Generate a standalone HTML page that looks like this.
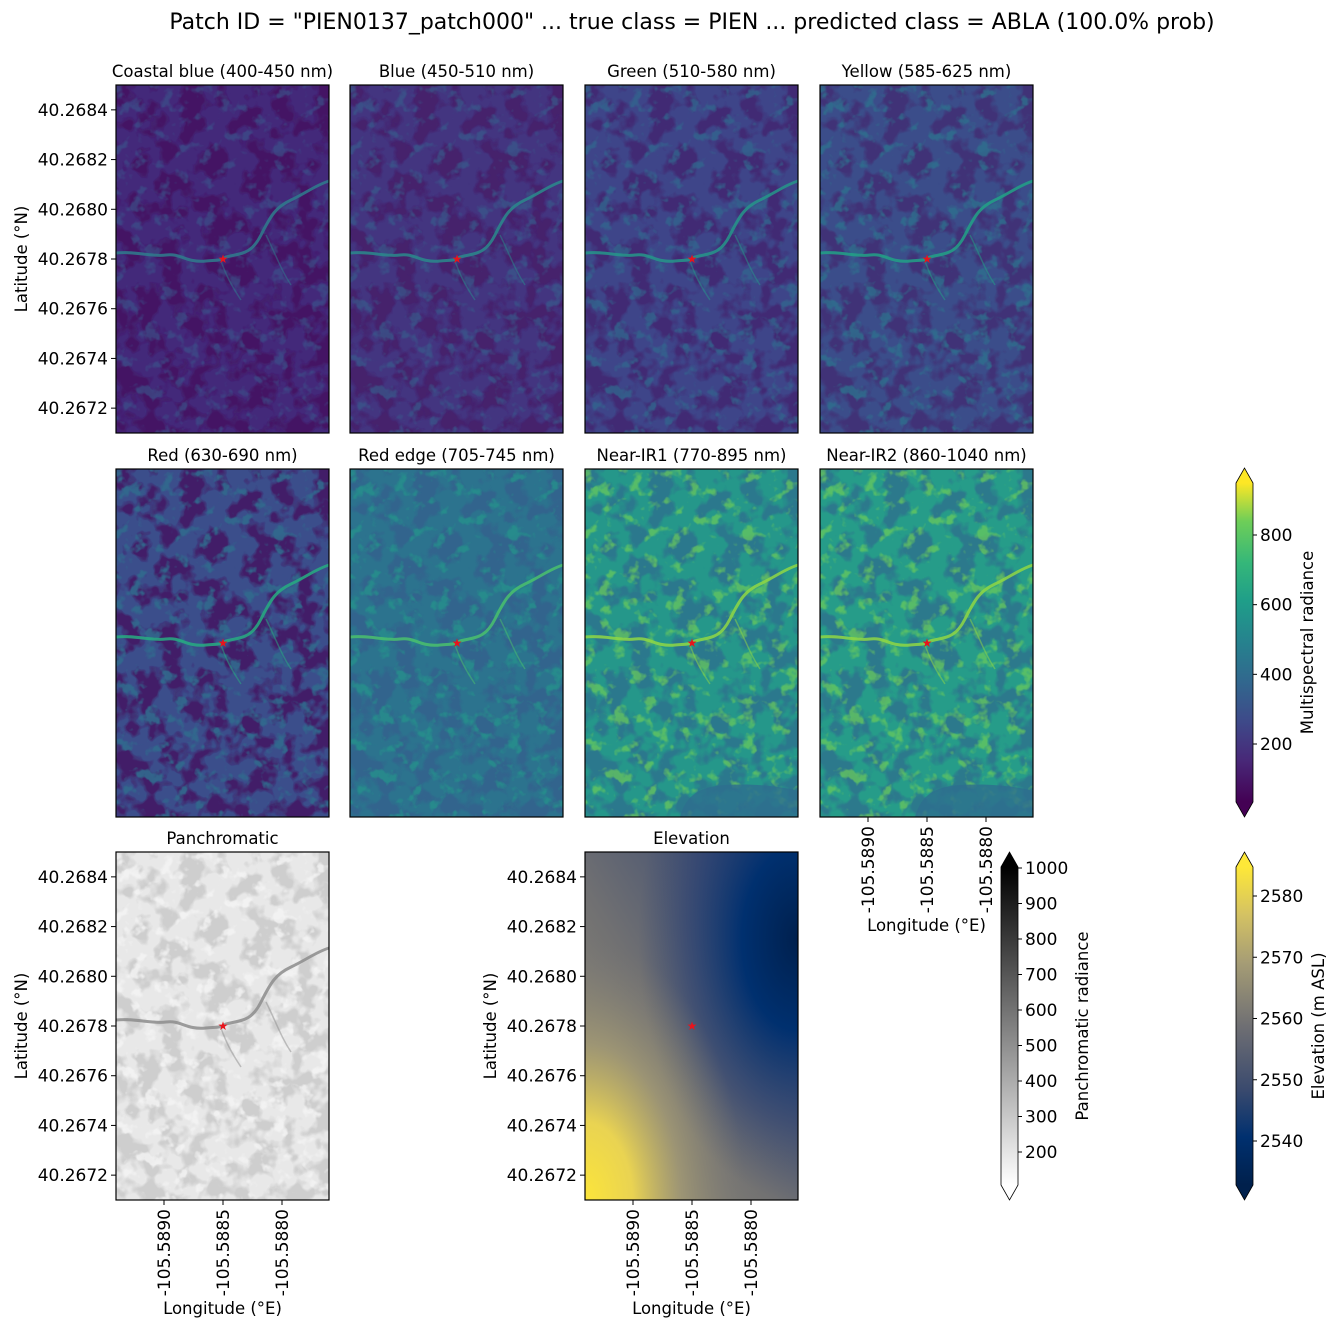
<!DOCTYPE html>
<html><head><meta charset="utf-8">
<style>
body{margin:0;background:#fff;}
svg text{font-family:"DejaVu Sans","Liberation Sans",sans-serif;fill:#000;}
</style></head>
<body>
<svg id="fig" width="1339" height="1332" viewBox="0 0 1339 1332" xmlns="http://www.w3.org/2000/svg">
<defs>
  <filter id="noiseDark" x="0" y="0" width="100%" height="100%">
    <feTurbulence type="fractalNoise" baseFrequency="0.045" numOctaves="3" seed="4" result="n"/>
    <feColorMatrix in="n" type="matrix" values="0 0 0 0 0  0 0 0 0 0  0 0 0 0 0  7 0 0 0 -3.2" result="a"/>
    <feComposite in="SourceGraphic" in2="a" operator="in"/>
  </filter>
  <filter id="noiseLight" x="0" y="0" width="100%" height="100%">
    <feTurbulence type="fractalNoise" baseFrequency="0.07" numOctaves="3" seed="11" result="n"/>
    <feColorMatrix in="n" type="matrix" values="0 0 0 0 0  0 0 0 0 0  0 0 0 0 0  6 0 0 0 -3.4" result="a"/>
    <feComposite in="SourceGraphic" in2="a" operator="in"/>
  </filter>
  <linearGradient id="viridis" x1="0" y1="1" x2="0" y2="0">
    <stop offset="0" stop-color="#440154"/><stop offset="0.13" stop-color="#482878"/>
    <stop offset="0.25" stop-color="#3e4989"/><stop offset="0.38" stop-color="#31688e"/>
    <stop offset="0.5" stop-color="#26828e"/><stop offset="0.63" stop-color="#1f9e89"/>
    <stop offset="0.75" stop-color="#35b779"/><stop offset="0.88" stop-color="#6ece58"/>
    <stop offset="1" stop-color="#fde725"/>
  </linearGradient>
  <linearGradient id="grays" x1="0" y1="1" x2="0" y2="0">
    <stop offset="0" stop-color="#ffffff"/><stop offset="1" stop-color="#000000"/>
  </linearGradient>
  <linearGradient id="cividis" x1="0" y1="1" x2="0" y2="0">
    <stop offset="0" stop-color="#00204c"/><stop offset="0.15" stop-color="#00306f"/>
    <stop offset="0.3" stop-color="#3a4a6e"/><stop offset="0.5" stop-color="#6f6f73"/>
    <stop offset="0.7" stop-color="#a69d75"/><stop offset="0.85" stop-color="#d4c263"/>
    <stop offset="1" stop-color="#fee838"/>
  </linearGradient>
  <radialGradient id="elevYellow" cx="0" cy="1" r="0.75">
    <stop offset="0" stop-color="#fce53a"/><stop offset="0.3" stop-color="#e9d352"/>
    <stop offset="0.6" stop-color="#a89e74" stop-opacity="0.7"/><stop offset="1" stop-color="#7a7876" stop-opacity="0"/>
  </radialGradient>
  <radialGradient id="elevBlue" cx="1" cy="0.25" r="0.75">
    <stop offset="0" stop-color="#00204e"/><stop offset="0.35" stop-color="#00306f"/>
    <stop offset="0.7" stop-color="#2a4072" stop-opacity="0.6"/><stop offset="1" stop-color="#3b4a6e" stop-opacity="0"/>
  </radialGradient>
  <linearGradient id="elevBase" x1="0" y1="1" x2="1" y2="0">
    <stop offset="0" stop-color="#9a9278"/><stop offset="0.45" stop-color="#707072"/>
    <stop offset="1" stop-color="#2a3f72"/>
  </linearGradient>
</defs>
<text x="692" y="29" font-size="22" text-anchor="middle">Patch ID = "PIEN0137_patch000" ... true class = PIEN ... predicted class = ABLA (100.0% prob)</text>
<g id="panels"></g>
<g id="cbars"></g>
</svg>
<script>
// tick data
const latTicks = ["40.2684","40.2682","40.2680","40.2678","40.2676","40.2674","40.2672"];
const latValues = [40.2684,40.2682,40.2680,40.2678,40.2676,40.2674,40.2672];
const lonTicks = ["-105.5890","-105.5885","-105.5880"];
const lonValues = [-105.5890,-105.5885,-105.5880];
const msTicks = [200,400,600,800];
const panTicks = [200,300,400,500,600,700,800,900,1000];
const elevTicks = [2540,2550,2560,2570,2580];
const starLat = 40.2678;
const starLon = -105.5885;

const W = 213, H = 348;
const latTop = 40.26850, latBot = 40.26710;
function yLat(v){ return (latTop - v) / (latTop - latBot) * H; }
function xLon(v){ return (v - (-105.5890)) / 0.0005 * 59 + 48; }

const NS = "http://www.w3.org/2000/svg";
function el(tag, attrs, parent){ const e = document.createElementNS(NS, tag); for (const k in attrs) e.setAttribute(k, attrs[k]); if (parent) parent.appendChild(e); return e; }

const panelsG = document.getElementById('panels');
const river = "M0,168 C20,166 35,172 50,170 C65,168 70,178 90,176 C100,175 104,176 110,172 C125,168 135,170 145,150 C155,130 160,122 175,115 C190,108 200,100 213,96";
const river2 = "M105,176 C110,190 115,200 125,215 M150,150 C160,170 165,185 175,200";

const panels = [
  {name:"coastal-blue", title:"Coastal blue (400-450 nm)", x:116, y:85, c:["#43297a","#450f5d","#3b538b","#2f7c8d"], lo:0.65, ylab:true},
  {name:"blue", title:"Blue (450-510 nm)", x:350, y:85, c:["#433580","#461a66","#385a8c","#2a8a8c"], lo:0.7},
  {name:"green", title:"Green (510-580 nm)", x:585, y:85, c:["#3e4589","#43236e","#33658e","#26968a"], lo:0.8},
  {name:"yellow", title:"Yellow (585-625 nm)", x:820, y:85, c:["#3b4d8a","#432a71","#2f6f8e","#22a286"], lo:0.8},
  {name:"red", title:"Red (630-690 nm)", x:116, y:469, c:["#3b4e8b","#450f5d","#306b8e","#27ad81"], lo:0.9},
  {name:"red-edge", title:"Red edge (705-745 nm)", x:350, y:469, c:["#2c738e","#355e8d","#25918c","#4ac16d"], lo:0.8},
  {name:"near-ir1", title:"Near-IR1 (770-895 nm)", x:585, y:469, c:["#25978a","#2e6e8e","#6ccd5a","#8fd744"], lo:0.7, dark:true},
  {name:"near-ir2", title:"Near-IR2 (860-1040 nm)", x:820, y:469, c:["#269c89","#2e6e8e","#6ccd5a","#8fd744"], lo:0.7, xlab:true, dark:true},
  {name:"panchromatic", title:"Panchromatic", x:116, y:852, c:["#e8e8e8","#c6c6c6","#f5f5f5","#8c8c8c"], lo:0.8, ylab:true, xlab:true},
  {name:"elevation", title:"Elevation", x:585, y:852, elev:true, ylab:true, xlab:true}
];

panels.forEach(p => {
  const g = el('g', {transform:`translate(${p.x},${p.y})`}, panelsG);
  
  
  const t = el('text', {x:W/2, y:-8, 'font-size':16.5, 'text-anchor':'middle'}, g);
  t.textContent = p.title;
  
  
  const img = el('g', {}, g);
  
  
  if (p.elev) {
    el('rect', {x:0, y:0, width:W, height:H, fill:'url(#elevBase)'}, img);
    el('rect', {x:0, y:0, width:W, height:H, fill:'url(#elevBlue)'}, img);
    el('rect', {x:0, y:0, width:W, height:H, fill:'url(#elevYellow)'}, img);
  } else {
    el('rect', {x:0, y:0, width:W, height:H, fill:p.c[0]}, img);
    el('rect', {x:0, y:0, width:W, height:H, fill:p.c[1], filter:'url(#noiseDark)', opacity:0.75}, img);
    el('rect', {x:0, y:0, width:W, height:H, fill:p.c[2], filter:'url(#noiseLight)', opacity:p.lo}, img);
    if (p.dark) el('path', {d:"M95,348 C100,330 110,318 140,316 C170,314 200,318 213,322 L213,348 Z", fill:p.c[1], opacity:0.8}, img);
    el('path', {d:river, fill:'none', stroke:p.c[3], 'stroke-width':3, opacity:0.85}, img);
    el('path', {d:river2, fill:'none', stroke:p.c[3], 'stroke-width':1.5, opacity:0.5}, img);
  }
  const star = el('text', {x:xLon(starLon), y:yLat(starLat)+4, 'font-size':12, 'text-anchor':'middle', style:'fill:#e8141c'}, g);
  star.textContent = '★';
  
  
  el('rect', {x:0, y:0, width:W, height:H, fill:'none', stroke:'#000', 'stroke-width':1.2}, g);
  if (p.ylab) {
    latValues.forEach((v,i) => {
      const y = yLat(v);
      el('line', {x1:-5, x2:0, y1:y, y2:y, stroke:'#000'}, g);
      const tt = el('text', {x:-8, y:y+6, 'font-size':17, 'text-anchor':'end'}, g);
      tt.textContent = latTicks[i];
      
      
    });
    const yl = el('text', {transform:`translate(${-89},${H/2}) rotate(-90)`, 'font-size':16.5, 'text-anchor':'middle'}, g);
    yl.textContent = 'Latitude (°N)';
    
    
  }
  if (p.xlab) {
    lonValues.forEach((v,i) => {
      const x = xLon(v);
      el('line', {x1:x, x2:x, y1:H, y2:H+5, stroke:'#000'}, g);
      const tt = el('text', {transform:`translate(${x+6},${H+9}) rotate(-90)`, 'font-size':17, 'text-anchor':'end'}, g);
      tt.textContent = lonTicks[i];
      
      
    });
    const xl = el('text', {x:W/2, y:H+114, 'font-size':16.5, 'text-anchor':'middle'}, g);
    xl.textContent = 'Longitude (°E)';
    
    
  }
});

// colorbars
const cb = document.getElementById('cbars');
function colorbar(name, x, top, bot, w, grad, topTip, botTip, ticks, vMin, vMax, yMin, yMax, label, labX){
  const g = el('g', {}, cb);
  
  
  const r0 = top + 15, r1 = bot - 15;
  el('rect', {x:x, y:r0, width:w, height:r1-r0, fill:'url(#'+grad+')'}, g);
  el('path', {d:`M${x},${r0} L${x+w/2},${top} L${x+w},${r0} Z`, fill:topTip}, g);
  el('path', {d:`M${x},${r1} L${x+w/2},${bot} L${x+w},${r1} Z`, fill:botTip}, g);
  el('path', {d:`M${x},${r0} L${x+w/2},${top} L${x+w},${r0} L${x+w},${r1} L${x+w/2},${bot} L${x},${r1} Z`, fill:'none', stroke:'#000', 'stroke-width':0.8}, g);
  ticks.forEach(v => {
    const y = yMin + (v - vMin) / (vMax - vMin) * (yMax - yMin);
    el('line', {x1:x+w, x2:x+w+4, y1:y, y2:y, stroke:'#000'}, g);
    const t = el('text', {x:x+w+7, y:y+6, 'font-size':17}, g);
    t.textContent = v;
    
    
  });
  const mid = (top+bot)/2;
  const l = el('text', {transform:`translate(${labX},${mid}) rotate(-90)`, 'font-size':16.5, 'text-anchor':'middle'}, g);
  l.textContent = label;
  
  
}
colorbar('multispectral-colorbar', 1236, 468, 817, 17, 'viridis', '#fde725', '#440154', msTicks, 200, 800, 744, 535, 'Multispectral radiance', 1313);
colorbar('panchromatic-colorbar', 1001, 852, 1200, 17, 'grays', '#000000', '#ffffff', panTicks, 200, 1000, 1152, 868, 'Panchromatic radiance', 1088);
colorbar('elevation-colorbar', 1236, 852, 1200, 17, 'cividis', '#fee838', '#00204c', elevTicks, 2540, 2580, 1141, 896, 'Elevation (m ASL)', 1324);
</script>
</body></html>
